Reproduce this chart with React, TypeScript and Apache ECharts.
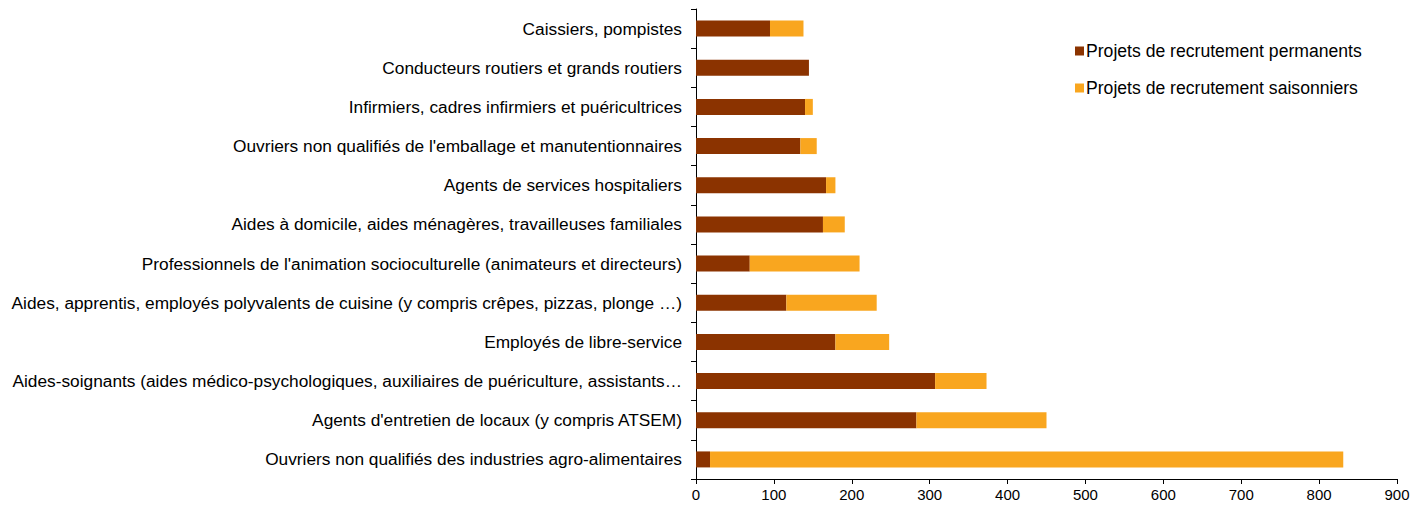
import React, { useEffect, useRef } from "react";
import * as echarts from "echarts";

const categories = [
  "Ouvriers non qualifiés des industries agro-alimentaires",
  "Agents d'entretien de locaux (y compris ATSEM)",
  "Aides-soignants (aides médico-psychologiques, auxiliaires de puériculture, assistants…",
  "Employés de libre-service",
  "Aides, apprentis, employés polyvalents de cuisine (y compris crêpes, pizzas, plonge …)",
  "Professionnels de l'animation socioculturelle (animateurs et directeurs)",
  "Aides à domicile, aides ménagères, travailleuses familiales",
  "Agents de services hospitaliers",
  "Ouvriers non qualifiés de l'emballage et manutentionnaires",
  "Infirmiers, cadres infirmiers et puéricultrices",
  "Conducteurs routiers et grands routiers",
  "Caissiers, pompistes",
];

const permanents = [18, 283, 307, 179, 116, 69, 163, 167, 134, 140, 145, 95];
const saisonniers = [813, 167, 66, 69, 116, 141, 28, 12, 21, 10, 0, 43];

const xTicks = { min: 0, max: 900, interval: 100 };

export default function App() {
  const ref = useRef<HTMLDivElement>(null);
  useEffect(() => {
    if (!ref.current) return;
    const chart = echarts.init(ref.current, null, { renderer: "svg" });
    chart.setOption({
      animation: false,
      textStyle: { fontFamily: "Liberation Sans, Arial, sans-serif" },
      grid: { left: 688, right: 19, top: 1, bottom: 18, containLabel: false },
      legend: {
        orient: "vertical",
        left: 1062,
        top: 29,
        itemWidth: 9,
        itemHeight: 9,
        itemGap: 19,
        icon: "rect",
        textStyle: { fontSize: 17.6, color: "#000", padding: [0, 0, 0, -3] },
        data: ["Projets de recrutement permanents", "Projets de recrutement saisonniers"],
      },
      xAxis: {
        type: "value",
        min: xTicks.min,
        max: xTicks.max,
        interval: xTicks.interval,
        axisLine: { show: true, lineStyle: { color: "#000" } },
        axisTick: { show: true, length: 5, lineStyle: { color: "#000" } },
        splitLine: { show: false },
        axisLabel: { fontSize: 15, color: "#000", margin: 8 },
      },
      yAxis: {
        type: "category",
        data: categories,
        axisLine: { show: true, lineStyle: { color: "#000" } },
        axisTick: { show: true, length: 5, lineStyle: { color: "#000" } },
        axisLabel: { fontSize: 17.3, color: "#000", margin: 14 },
      },
      series: [
        {
          name: "Projets de recrutement permanents",
          type: "bar",
          stack: "total",
          data: permanents,
          barWidth: 16,
          itemStyle: { color: "#8B3300" },
        },
        {
          name: "Projets de recrutement saisonniers",
          type: "bar",
          stack: "total",
          data: saisonniers,
          barWidth: 16,
          itemStyle: { color: "#F9A61F" },
        },
      ],
    });
    return () => chart.dispose();
  }, []);
  return <div ref={ref} style={{ width: 1408, height: 494 }} />;
}
